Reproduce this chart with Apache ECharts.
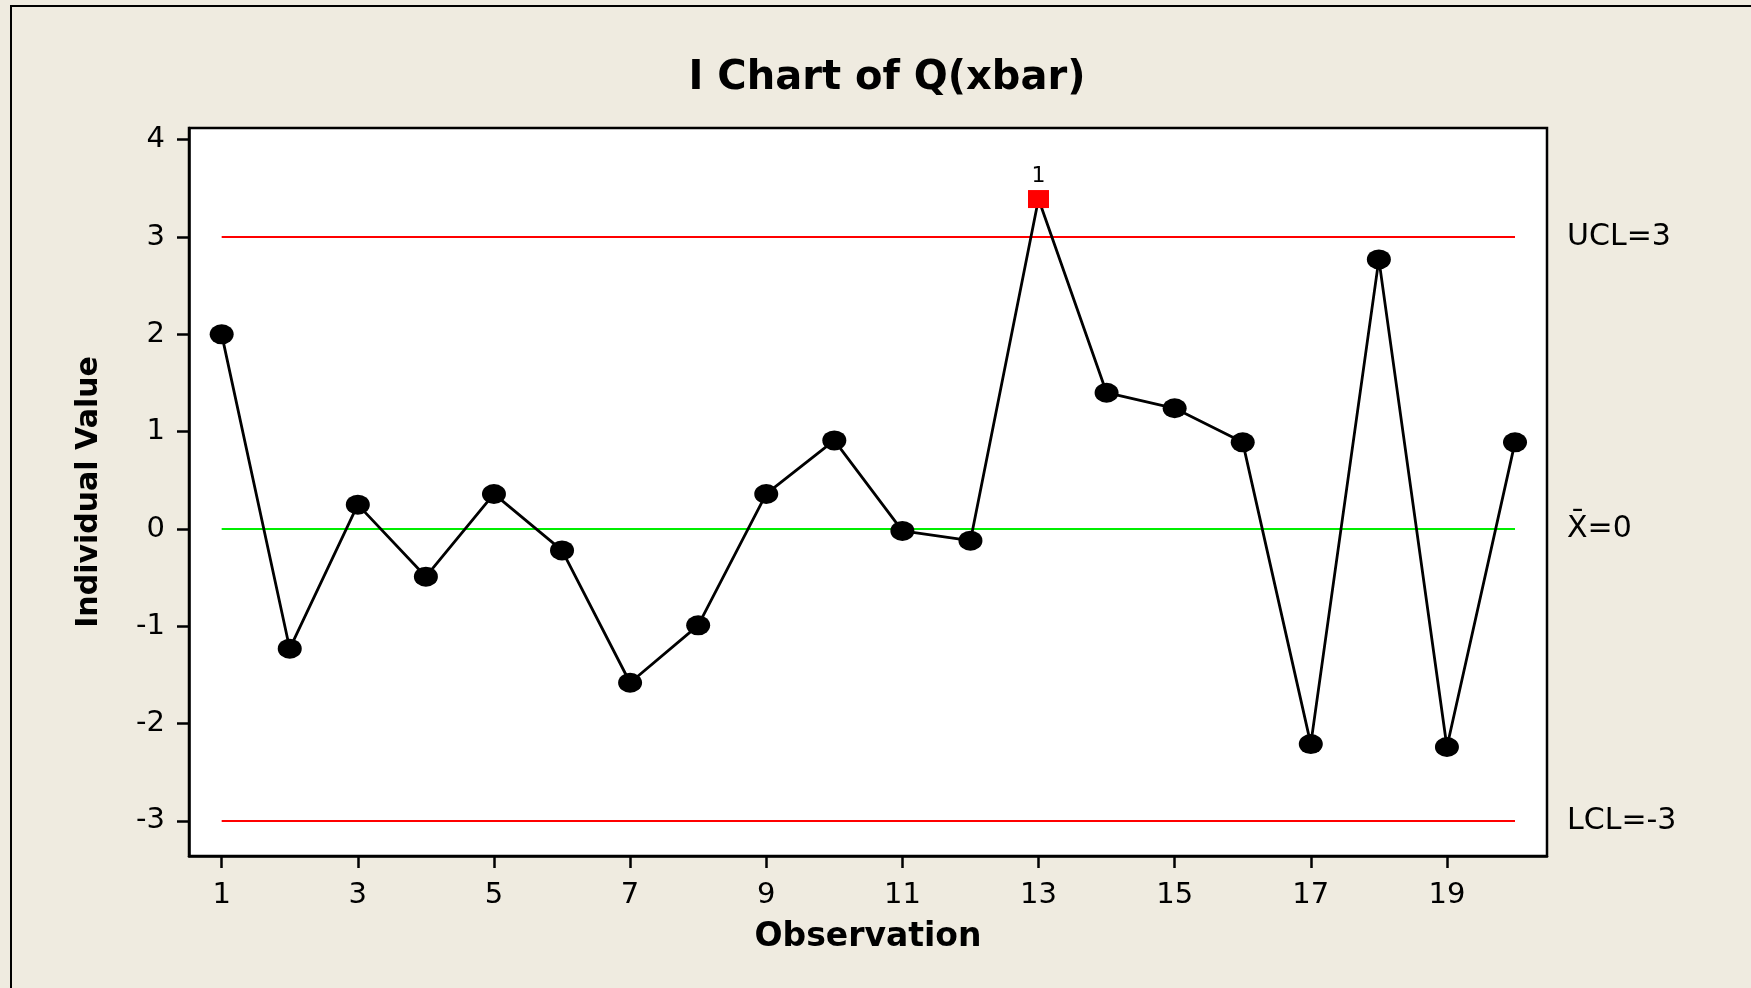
<!DOCTYPE html>
<html>
<head>
<meta charset="utf-8">
<title>I Chart of Q(xbar)</title>
<script src="https://cdn.jsdelivr.net/npm/echarts@6/dist/echarts.min.js"></script>
<style>
  html, body { margin: 0; padding: 0; background: #EFEBE0; }
  #chart { width: 1751px; height: 988px; }
</style>
</head>
<body>
<div id="chart"></div>
<script>
// Individual values for each observation
const observations = [1, 2, 3, 4, 5, 6, 7, 8, 9, 10, 11, 12, 13, 14, 15, 16, 17, 18, 19, 20];
const individualValues = [2.00, -1.23, 0.25, -0.49, 0.36, -0.22, -1.58, -0.99, 0.36, 0.91,
                          -0.02, -0.12, 3.39, 1.40, 1.24, 0.89, -2.21, 2.77, -2.24, 0.89];
// Observations that fail test 1 (beyond control limits)
const outOfControl = [13];

// Control limits
const UCL = 3;
const CENTER = 0;
const LCL = -3;
const limitLabels = ['UCL=3', 'X\u0304=0', 'LCL=-3'];

// Tick labels
const xTicks = [1, 3, 5, 7, 9, 11, 13, 15, 17, 19];
const yTicks = [-3, -2, -1, 0, 1, 2, 3, 4];

const FONT = 'DejaVu Sans';

const points = observations.map((obs, i) => {
  const p = { value: [obs, individualValues[i]] };
  if (outOfControl.includes(obs)) {
    p.symbol = 'rect';
    p.symbolSize = [21, 18];
    p.itemStyle = { color: '#FF0000' };
    p.label = {
      show: true, position: 'top', distance: 3, formatter: '1',
      fontFamily: FONT, fontSize: 22, color: '#000'
    };
  }
  return p;
});

function limitLine(y, color, text) {
  return [
    {
      coord: [observations[0], y],
      lineStyle: { color: color, width: 2.2, type: 'solid' },
      label: {
        show: true, position: 'end', distance: 52, formatter: text,
        fontFamily: FONT, fontSize: 30, color: '#000', align: 'left'
      }
    },
    { coord: [observations[observations.length - 1], y] }
  ];
}

const chart = echarts.init(document.getElementById('chart'));
chart.setOption({
  backgroundColor: '#EFEBE0',
  animation: false,
  title: {
    text: 'I Chart of Q(xbar)',
    left: 882, top: 54, textAlign: 'center',
    textStyle: { fontFamily: FONT, fontWeight: 'bold', fontSize: 40, color: '#000' }
  },
  graphic: [{
    type: 'rect', silent: true, z: -1,
    shape: { x: 11, y: 6, width: 1800, height: 1100 },
    style: { fill: 'none', stroke: '#000', lineWidth: 2 }
  }],
  grid: {
    left: 189, right: 204, top: 128, bottom: 132,
    show: true, backgroundColor: '#FFFFFF', borderColor: '#000', borderWidth: 2.5
  },
  xAxis: {
    type: 'value', min: 0.52, max: 20.47,
    name: 'Observation', nameLocation: 'middle', nameGap: 65,
    nameTextStyle: { fontFamily: FONT, fontWeight: 'bold', fontSize: 33, color: '#000' },
    axisLine: { show: true, onZero: false, lineStyle: { color: '#000', width: 2.5 } },
    axisTick: { show: true, length: 12, customValues: xTicks, lineStyle: { color: '#000', width: 2.5 } },
    axisLabel: { customValues: xTicks, margin: 25, fontFamily: FONT, fontSize: 29, color: '#000' },
    splitLine: { show: false }
  },
  yAxis: {
    type: 'value', min: -3.36, max: 4.12,
    name: 'Individual Value', nameLocation: 'middle', nameGap: 85,
    nameTextStyle: { fontFamily: FONT, fontWeight: 'bold', fontSize: 30, color: '#000' },
    axisLine: { show: true, onZero: false, lineStyle: { color: '#000', width: 2.5 } },
    axisTick: { show: true, length: 12, customValues: yTicks, lineStyle: { color: '#000', width: 2.5 } },
    axisLabel: { customValues: yTicks, margin: 24, fontFamily: FONT, fontSize: 29, color: '#000' },
    splitLine: { show: false }
  },
  series: [{
    type: 'line',
    data: points,
    symbol: 'circle',
    symbolSize: [24, 20],
    itemStyle: { color: '#000' },
    lineStyle: { color: '#000', width: 2.8 },
    z: 3,
    markLine: {
      silent: true,
      symbol: 'none',
      z: 1,
      data: [
        limitLine(UCL, '#FF0000', limitLabels[0]),
        limitLine(CENTER, '#00EE00', limitLabels[1]),
        limitLine(LCL, '#FF0000', limitLabels[2])
      ]
    }
  }]
});
</script>
</body>
</html>
